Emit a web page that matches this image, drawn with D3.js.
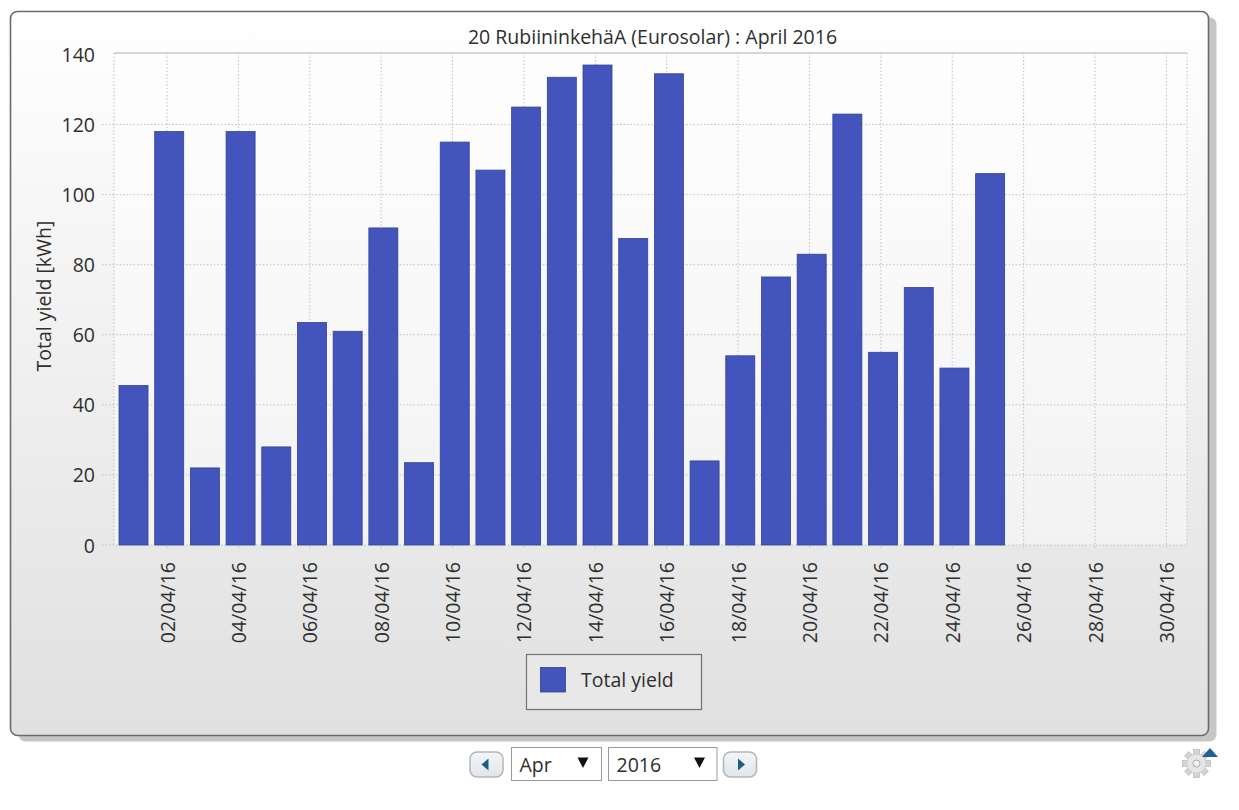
<!DOCTYPE html>
<html>
<head>
<meta charset="utf-8">
<style>
  html, body { margin: 0; padding: 0; background: #fff; }
  svg { display: block; }
  text { font-family: "Open Sans", "Noto Sans", sans-serif; fill: #2e2e2e; }
</style>
<script src="https://cdn.jsdelivr.net/npm/d3@7/dist/d3.min.js"></script>
</head>
<body>
<svg id="chart" width="1239" height="810"></svg>
<script>
// Daily production for April 2016
const chartTitle = "20 RubiininkehäA (Eurosolar) : April 2016";
const yLabel = "Total yield [kWh]";
const seriesName = "Total yield";
const dayNumbers = [1,2,3,4,5,6,7,8,9,10,11,12,13,14,15,16,17,18,19,20,21,22,23,24,25];
const dailyYield = [45.5,118,22,118,28,63.5,61,90.5,23.5,115,107,125,133.5,137,87.5,134.5,24,54,76.5,83,123,55,73.5,50.5,106];
const yTicks = [0,20,40,60,80,100,120,140];
const tickDays = [2,4,6,8,10,12,14,16,18,20,22,24,26,28,30];
const monthChoice = "Apr";
const yearChoice = "2016";

const labelSize = 19.5;
const svg = d3.select("#chart");
const defs = svg.append("defs");

const panelFill = defs.append("linearGradient")
  .attr("id", "panelFill").attr("x1", 0).attr("y1", 0).attr("x2", 0).attr("y2", 1);
panelFill.append("stop").attr("offset", "0%").attr("stop-color", "#ffffff");
panelFill.append("stop").attr("offset", "100%").attr("stop-color", "#e0e0e0");

const btnFill = defs.append("linearGradient")
  .attr("id", "btnFill").attr("x1", 0).attr("y1", 0).attr("x2", 0).attr("y2", 1);
btnFill.append("stop").attr("offset", "0%").attr("stop-color", "#f4f6f8");
btnFill.append("stop").attr("offset", "100%").attr("stop-color", "#dfe6ec");

// Panel with its offset drop shadow
const panel = { x: 10.5, y: 11.5, w: 1198, h: 724 };
svg.append("rect").attr("x", panel.x + 8).attr("y", panel.y + 6)
  .attr("width", panel.w).attr("height", panel.h).attr("rx", 7).attr("fill", "#c6c6c6");
svg.append("rect").attr("x", panel.x).attr("y", panel.y)
  .attr("width", panel.w).attr("height", panel.h).attr("rx", 7)
  .attr("fill", "url(#panelFill)").attr("stroke", "#6b6b6b").attr("stroke-width", 1.6);

// Plot geometry and scales
const plot = { left: 114, right: 1187, top: 53, bottom: 545 };
const day = d => new Date(Date.UTC(2016, 3, d));
const x = d3.scaleUtc().domain([day(2), day(30)]).range([167, 1166.4]);
const y = d3.scaleLinear().domain([0, 140]).range([plot.bottom, 54.5]);
const barWidth = 29;
const barShift = 2.2;

svg.append("rect").attr("x", plot.left).attr("y", plot.top)
  .attr("width", plot.right - plot.left).attr("height", plot.bottom - plot.top)
  .attr("fill", "#ffffff").attr("fill-opacity", 0.45);

// Dotted grid
const grid = svg.append("g").attr("fill", "none")
  .attr("stroke", "#c0c0c0").attr("stroke-width", 1).attr("stroke-dasharray", "1.5 2");
grid.selectAll("line.h").data(yTicks.slice(1, -1).concat([0])).join("line").attr("class", "h")
  .attr("x1", 102).attr("x2", plot.right)
  .attr("y1", d => y(d)).attr("y2", d => y(d));
grid.selectAll("line.v").data(tickDays).join("line").attr("class", "v")
  .attr("x1", d => x(day(d))).attr("x2", d => x(day(d)))
  .attr("y1", plot.top).attr("y2", plot.bottom + 5);
grid.append("line").attr("x1", plot.left).attr("x2", plot.left).attr("y1", plot.top).attr("y2", plot.bottom);
grid.append("line").attr("x1", plot.right).attr("x2", plot.right).attr("y1", plot.top).attr("y2", plot.bottom);

svg.append("line").attr("x1", plot.left).attr("x2", plot.right)
  .attr("y1", plot.top).attr("y2", plot.top)
  .attr("stroke", "#c8c8c8").attr("stroke-width", 1.4);

// Bars
svg.append("g").selectAll("rect").data(dayNumbers).join("rect")
  .attr("x", (d) => x(day(d)) + barShift - barWidth / 2)
  .attr("width", barWidth)
  .attr("y", (d, i) => y(dailyYield[i]))
  .attr("height", (d, i) => y(0) - y(dailyYield[i]))
  .attr("fill", "#4355bd")
  .attr("stroke", "#34428f").attr("stroke-width", 0.8);

// Axes, labels only: the grid already carries the tick lines
const yAxis = d3.axisLeft(y).tickValues(yTicks).tickSize(0).tickPadding(19);
const yG = svg.append("g").attr("transform", `translate(${plot.left},0)`).call(yAxis);
yG.select(".domain").remove();
yG.selectAll("text").attr("font-size", labelSize).attr("dy", "0.36em");

const xAxis = d3.axisBottom(x).tickValues(tickDays.map(day))
  .tickFormat(d3.utcFormat("%d/%m/%y")).tickSize(0);
const xG = svg.append("g").attr("transform", `translate(0,${plot.bottom})`).call(xAxis);
xG.select(".domain").remove();
xG.selectAll("text")
  .attr("font-size", labelSize)
  .attr("text-anchor", "end")
  .attr("transform", "rotate(-90)")
  .attr("x", -17).attr("y", 0).attr("dy", "0.36em");

// Titles
svg.append("text").attr("x", 652.5).attr("y", 44).attr("text-anchor", "middle")
  .attr("font-size", labelSize).text(chartTitle);
svg.append("text").attr("transform", "translate(51,296) rotate(-90)")
  .attr("text-anchor", "middle").attr("font-size", labelSize).text(yLabel);

// Legend
const legend = svg.append("g");
legend.append("rect").attr("x", 526.5).attr("y", 654.5).attr("width", 175).attr("height", 55)
  .attr("fill", "#e8e8e8").attr("stroke", "#6f7478").attr("stroke-width", 1.2);
legend.append("rect").attr("x", 540.5).attr("y", 667.5).attr("width", 25).attr("height", 24.5)
  .attr("fill", "#4355bd").attr("stroke", "#34428f").attr("stroke-width", 0.8);
legend.append("text").attr("x", 581).attr("y", 687).attr("font-size", labelSize).text(seriesName);

// Month and year pickers
function navButton(cx, dir) {
  const g = svg.append("g").attr("transform", `translate(${cx},764.5)`);
  g.append("rect").attr("x", -16.5).attr("y", -12.5).attr("width", 33).attr("height", 25).attr("rx", 7)
    .attr("fill", "url(#btnFill)").attr("stroke", "#b5b5b5").attr("stroke-width", 1.5);
  g.append("path").attr("d", dir < 0 ? "M-5,0L2,-6V6Z" : "M5,0L-2,-6V6Z").attr("fill", "#1f5d86");
}
function picker(px, w, label, triangleX) {
  const g = svg.append("g");
  g.append("rect").attr("x", px).attr("y", 747.5).attr("width", w).attr("height", 33)
    .attr("fill", "#fff").attr("stroke", "#9a9a9a").attr("stroke-width", 1);
  g.append("text").attr("x", px + 8).attr("y", 772).attr("font-size", labelSize).text(label);
  g.append("path").attr("d", `M${triangleX - 5.5},757.5H${triangleX + 5.5}L${triangleX},768Z`).attr("fill", "#111");
}
navButton(486.5, -1);
picker(511.5, 90, monthChoice, 583);
picker(608.5, 108.5, yearChoice, 699.5);
navButton(740, 1);

// Settings gear with its small arrow
const gear = svg.append("g").attr("transform", "translate(1196.5,763.5)");
const gearTeeth = d3.range(8).map(i => i * 45);
gear.selectAll("rect").data(gearTeeth).join("rect")
  .attr("x", -3).attr("y", -14).attr("width", 6).attr("height", 6.5)
  .attr("transform", d => `rotate(${d})`).attr("fill", "#d4d4d4").attr("stroke", "#b8b8b8").attr("stroke-width", 0.7);
gear.append("circle").attr("r", 9.5).attr("fill", "#e6e6e6").attr("stroke", "#d0d0d0");
gear.append("circle").attr("r", 3.5).attr("fill", "#f6f6f6").attr("stroke", "#aaaaaa");
svg.append("path").attr("d", "M1202,757L1210,748L1218,757Z").attr("fill", "#1f5f9c");
</script>
</body>
</html>
